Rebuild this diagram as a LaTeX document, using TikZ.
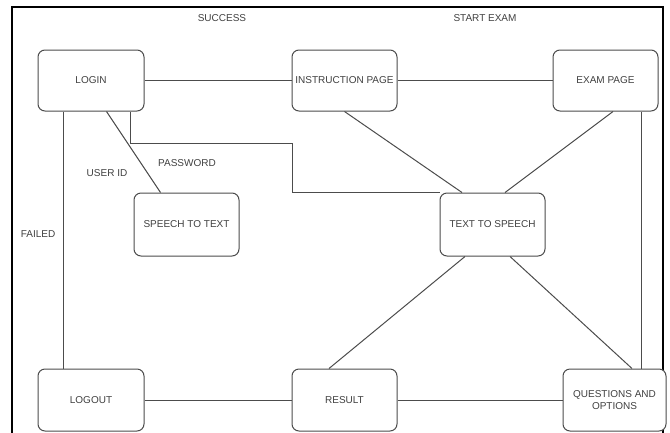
\documentclass[tikz,border=0pt]{standalone}
\usepackage{fontspec}
\setmainfont{Liberation Sans}
\begin{document}
\begin{tikzpicture}[x=1pt,y=-1pt,
  box/.style={draw=black!70, line width=1pt, rounded corners=7pt, fill=white,
    minimum width=105pt, minimum height=62pt, inner sep=1pt, align=center,
    text=black!75, font=\fontsize{10}{12}\selectfont},
  lbl/.style={text=black!75, font=\fontsize{10}{12}\selectfont, inner sep=1pt},
  conn/.style={draw=black!70, line width=1pt}]
\useasboundingbox (0,0) rectangle (670,432);
\draw[line width=2.6pt] (12,433) -- (12,7) -- (663,7) -- (663,433);
% nodes
\node[box, minimum width=106pt, minimum height=61pt] (login) at (91,80.5) {LOGIN};
\node[box, minimum height=61pt] (instr) at (344.5,80.5) {INSTRUCTION PAGE};
\node[box, minimum height=61pt] (exam) at (605.5,80.5) {EXAM PAGE};
\node[box, minimum height=63pt] (stt) at (186.5,224.5) {SPEECH TO TEXT};
\node[box, minimum height=63pt] (tts) at (492.5,224.5) {TEXT TO SPEECH};
\node[box, minimum width=106pt] (logout) at (91,400) {LOGOUT};
\node[box] (result) at (344.5,400) {RESULT};
\node[box, minimum width=103pt] (qo) at (614.5,400) {QUESTIONS AND\\OPTIONS};
% labels
\node[lbl] (lsuccess) at (222,18) {SUCCESS};
\node[lbl] (lstart) at (485,18) {START EXAM};
\node[lbl] (luser) at (107,173) {USER ID};
\node[lbl] (lpass) at (187,163) {PASSWORD};
\node[lbl] (lfail) at (38,234) {FAILED};
% connectors
\coordinate (elb) at (292,143);
\draw[conn] (login.east) -- (instr.west);
\draw[conn] (instr.east) -- (exam.west);
\draw[conn] ([xshift=26pt]login.south west) -- ([xshift=26pt]logout.north west);
\draw[conn] ([xshift=69pt]login.south west) -- ([xshift=27pt]stt.north west);
\draw[conn] ([xshift=93pt]login.south west) |- (elb) |- (tts.north west);
\draw[conn] (instr.south) -- ([xshift=-30.5pt]tts.north);
\draw[conn] ([xshift=7.5pt]exam.south) -- ([xshift=12.5pt]tts.north);
\draw[conn] ([xshift=35.5pt]exam.south) -- ([xshift=26.5pt]qo.north);
\draw[conn] ([xshift=-27.5pt]tts.south) -- ([xshift=-15.5pt]result.north);
\draw[conn] ([xshift=17.5pt]tts.south) -- ([xshift=17.5pt]qo.north);
\draw[conn] (logout.east) -- (result.west);
\draw[conn] (result.east) -- (qo.west);
\end{tikzpicture}
\end{document}
